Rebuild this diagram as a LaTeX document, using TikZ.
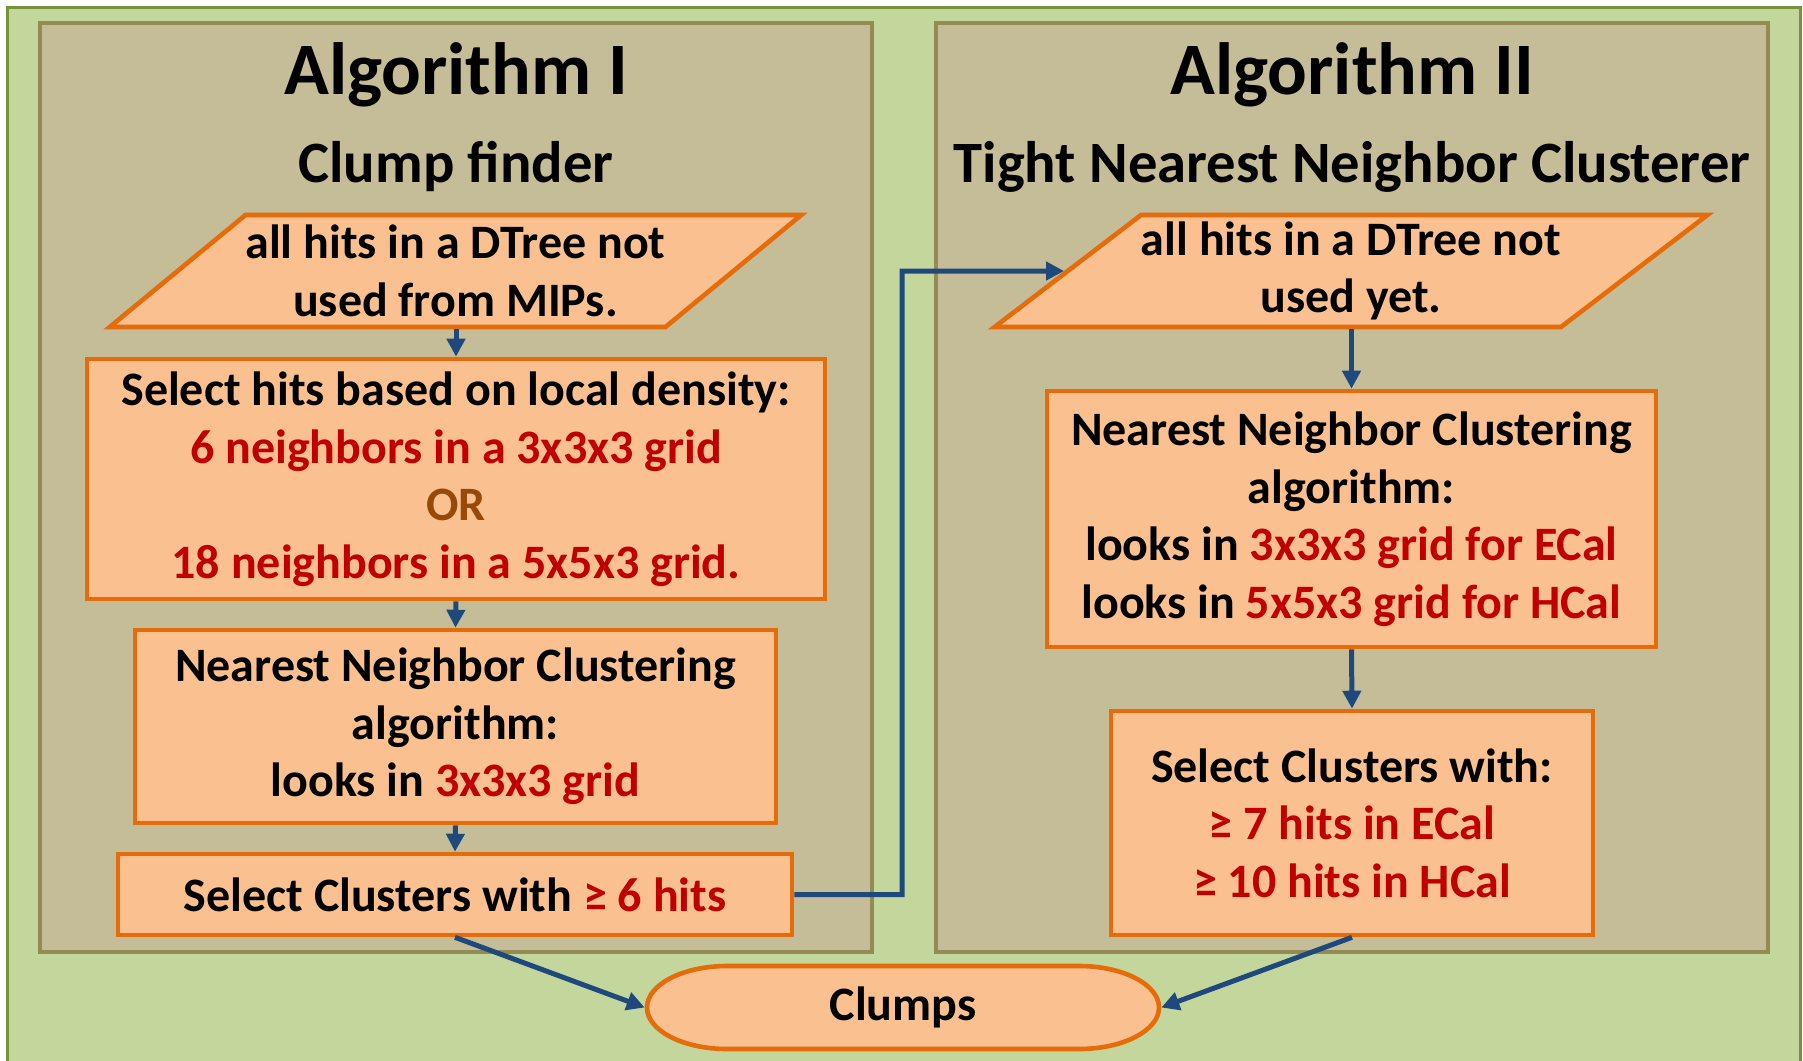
\documentclass[tikz,border=0pt]{standalone}
\usepackage{fontspec}
\setmainfont{Carlito}
\usepackage{tikz}
\usetikzlibrary{arrows.meta, positioning, shapes.geometric}

\definecolor{bggreen}{HTML}{C3D69B}
\definecolor{bgborder}{HTML}{76923C}
\definecolor{panelfill}{HTML}{C4BD97}
\definecolor{panelborder}{HTML}{948A54}
\definecolor{boxfill}{HTML}{FAC090}
\definecolor{boxborder}{HTML}{E46C0A}
\definecolor{flowblue}{HTML}{1F497D}
\definecolor{hitred}{HTML}{C00000}
\definecolor{orbrown}{HTML}{984807}

\newcommand{\redtxt}[1]{\textcolor{hitred}{#1}}

\begin{document}
\begin{tikzpicture}[
  x=0.5pt, y=-0.5pt,
  panel/.style={draw=panelborder, line width=2.3pt, fill=panelfill, minimum width=416pt, minimum height=464.5pt, inner sep=0pt},
  box/.style={draw=boxborder, line width=2.3pt, fill=boxfill, align=center, inner sep=0pt, font=\fontsize{24}{28.75}\selectfont\bfseries},
  inbox/.style={box, trapezium, trapezium left angle=34, trapezium right angle=146, trapezium stretches body, minimum width=340pt, minimum height=56pt},
  endbox/.style={box, draw=none, fill=none, minimum width=256pt, minimum height=41.5pt},
  endline/.style={draw=boxborder, line width=2.3pt, fill=boxfill},
  algtitle/.style={font=\fontsize{37}{40}\selectfont\bfseries, anchor=base},
  algsub/.style={font=\fontsize{29.3}{32}\selectfont\bfseries, anchor=base},
  arrow/.style={-{Triangle[length=9pt, width=9pt]}, line width=2.5pt, flowblue}
]
\useasboundingbox (0,0) rectangle (1803,1060);

% Background
\begin{scope}
\clip (0,0) rectangle (1803,1060);
\draw[bgborder, line width=1.5pt, fill=bggreen] (7.5,7.5) rectangle (1800,1080);
\end{scope}

% Panels
\node[panel] (panel1) at (456,487.5) {};
\node[panel] (panel2) at (1352,487.5) {};

% Titles
\node[algtitle] (alg1) at (456,94) {Algorithm I};
\node[algsub] (sub1) at (456,182) {Clump finder};
\node[algtitle] (alg2) at (1352,94) {Algorithm II};
\node[algsub] (sub2) at (1352,182) {Tight Nearest Neighbor Clusterer};

% Algorithm I column
\node[inbox] (in1) at (455.5,271) {all hits in a DTree not\\used from MIPs.};
\node[box, minimum width=369pt, minimum height=120pt] (dens) at (456,479) {Select hits based on local density:\\
  \redtxt{6 neighbors in a 3x3x3 grid}\\
  \textcolor{orbrown}{OR}\\
  \redtxt{18 neighbors in a 5x5x3 grid.}};
\node[box, minimum width=320.5pt, minimum height=96.5pt] (nnc1) at (455.5,726.5) {Nearest Neighbor Clustering\\algorithm:\\looks in \redtxt{3x3x3 grid}};
\node[box, minimum width=337pt, minimum height=40.5pt] (cut1) at (455,894.5) {Select Clusters with \redtxt{≥ 6 hits}};

% Algorithm II column
\node[inbox] (in2) at (1351,271) {all hits in a DTree not\\used yet.};
\node[box, minimum width=304.5pt, minimum height=128pt] (nnc2) at (1351.5,519) {Nearest Neighbor Clustering\\algorithm:\\
  looks in \redtxt{3x3x3 grid for ECal}\\
  looks in \redtxt{5x5x3 grid for HCal}};
\node[box, minimum width=241pt, minimum height=112pt] (cut2) at (1352,823) {Select Clusters with:\\
  \redtxt{≥ 7 hits in ECal}\\
  \redtxt{≥ 10 hits in HCal}};

% Result
\draw[endline] (903,1007.5) ++(-176,-41.5) -- ++(352,0)
  arc[start angle=90, end angle=-90, x radius=40pt, y radius=20.75pt] -- ++(-352,0)
  arc[start angle=270, end angle=90, x radius=40pt, y radius=20.75pt] -- cycle;
\node[endbox] (clumps) at (903,1007.5) {Clumps};

% Connectors
\coordinate (turn) at (902,271);
\draw[arrow] (dens.north |- in1.south) -- (dens.north);
\draw[arrow] (dens.south) -- (nnc1.north);
\draw[arrow] (nnc1.south) -- (cut1.north);
\draw[arrow] (cut1.east) -| (turn) -- (in2);
\draw[arrow] (nnc2.north |- in2.south) -- (nnc2.north);
\draw[arrow] (nnc2.south) -- (cut2.north);
\draw[arrow] (cut1.south) -- (clumps.west);
\draw[arrow] (cut2.south) -- (clumps.east);

\end{tikzpicture}
\end{document}
